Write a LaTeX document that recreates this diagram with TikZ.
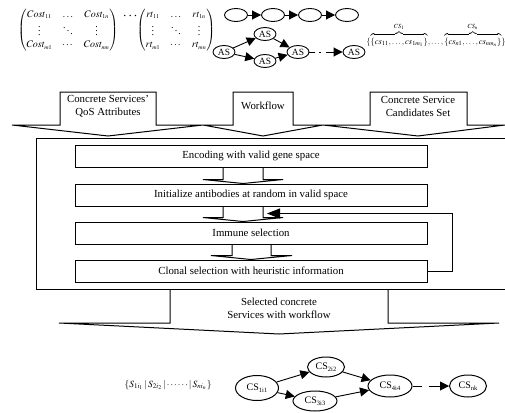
\documentclass[tikz,border=0pt]{standalone}
\usepackage{amsmath}
\usepackage{mathptmx}
\usepackage[no-math]{fontspec}
\setmainfont{Liberation Serif}
\usetikzlibrary{shapes.geometric,arrows.meta,calc}
\newcommand{\sbs}[1]{\raisebox{-1.6pt}{\fontsize{6.5}{6.5}\selectfont #1}}
\newcommand{\ms}[1]{_{\scriptscriptstyle #1}}
\tikzset{
  txt/.style={font=\fontsize{10.8}{13}\selectfont, align=center},
  procbox/.style={draw, line width=1pt, minimum width=352pt, minimum height=22pt, inner sep=0pt, txt},
  blk/.style={line width=1pt, line join=miter},
  asnode/.style={ellipse, draw, line width=0.9pt, minimum width=22pt, minimum height=13pt, inner sep=0pt, font=\fontsize{9.5}{10}\selectfont},
  chainnode/.style={ellipse, draw, line width=0.9pt, minimum width=23pt, minimum height=13pt, inner sep=0pt},
  csnode/.style={ellipse, draw, line width=1pt, inner sep=0pt, font=\fontsize{10}{11}\selectfont},
  arr/.style={-{Triangle[length=9pt,width=9pt]}, line width=0.9pt},
  fbarr/.style={-{Triangle[length=13pt,width=10pt]}, line width=1pt},
}
\begin{document}
\begin{tikzpicture}[x=1pt,y=-1pt]
\useasboundingbox (0,0) rectangle (505,412);

% ---- top: matrices
\node[inner sep=0pt] (m1) at (68,30) {\fontsize{10}{12}\selectfont$\begin{pmatrix} Cost\ms{11} & \ldots & Cost\ms{1n}\\ \vdots & \ddots & \vdots\\ Cost\ms{m1} & \cdots & Cost\ms{mn}\end{pmatrix}$};
\node[inner sep=0pt] (md) at (131,16) {\fontsize{14}{14}\selectfont$\boldsymbol{\cdots}$};
\node[inner sep=0pt] (m2) at (176,30) {\fontsize{10}{12}\selectfont$\begin{pmatrix} rt\ms{11} & \ldots & rt\ms{1n}\\ \vdots & \ddots & \vdots\\ rt\ms{m1} & \cdots & rt\ms{mn}\end{pmatrix}$};

% ---- top: chain
\node[chainnode] (c1) at (236,15) {};
\node[chainnode] (c2) at (273,15) {};
\node[chainnode] (c3) at (310,15) {};
\node[chainnode] (c4) at (347,15) {};
\draw[arr] (c1) -- (c2);
\draw[arr] (c2) -- (c3);
\draw[arr] (c3) -- (c4);

% ---- top: AS graph
\node[asnode] (as1) at (224,52) {AS};
\node[asnode] (as2) at (265,34) {AS};
\node[asnode] (as3) at (265,61) {AS};
\node[asnode] (as4) at (298,52) {AS};
\node[asnode] (as5) at (354,52) {AS};
\draw[arr] (as1) -- (as2);
\draw[arr] (as1) -- (as3);
\draw[arr] (as2) -- (as4);
\draw[arr] (as3) -- (as4);
\draw[arr, dash pattern=on 6pt off 4pt on 1.5pt off 5pt on 30pt] (as4) -- (as5);

% ---- top: candidate set
\node (cset) at (436,35) {\fontsize{8.5}{10}\selectfont$\{\overbrace{\{cs_{11},\ldots,cs_{1m_1}\}}^{CS_1},\ldots,\overbrace{\{cs_{n1},\ldots,cs_{nm_n}\}}^{CS_n}\}$};

% ---- input block arrows
\draw[blk] (12,125) -- (60,125) -- (60,92) -- (156,92) -- (156,125) -- (203,125) -- (108,136) -- cycle;
\draw[blk] (203,125) -- (233,125) -- (233,92) -- (293,92) -- (293,125) -- (323,125) -- (263,136) -- cycle;
\draw[blk] (323,125) -- (370,125) -- (370,92) -- (467,92) -- (467,125) -- (505,125) -- (418,136) -- cycle;
\node[txt] (in1) at (108,106) {Concrete Services'\\QoS Attributes};
\node[txt] (in2) at (263,106) {Workflow};
\node[txt] (in3) at (418,106) {Concrete Service\\Candidates Set};

% ---- big frame
\draw[blk] (506,138) -- (36,138) -- (36,289) -- (506,289);

% ---- process boxes
\node[procbox] (enc) at (251,156) {Encoding with valid gene space};
\node[procbox] (init) at (251,195) {Initialize antibodies at random in valid space};
\node[procbox] (imm) at (251,233) {Immune selection};
\node[procbox] (clon) at (251,271) {Clonal selection with heuristic information};

% ---- inner block arrows
\draw[blk] ($(enc.south)+(-28,0)$) -- ($(init.north)+(-28,-4)$) -- ($(init.north)+(-48,-4)$) -- ($(init.north)+(-8,0)$) -- ($(init.north)+(32,-4)$) -- ($(init.north)+(12,-4)$) -- ($(enc.south)+(12,0)$);
\draw[blk] ($(init.south)+(-28,0)$) -- ($(imm.north)+(-28,-4)$) -- ($(imm.north)+(-48,-4)$) -- ($(imm.north)+(-8,0)$) -- ($(imm.north)+(32,-4)$) -- ($(imm.north)+(12,-4)$) -- ($(init.south)+(12,0)$);
\draw[blk] ($(imm.south)+(-19,0)$) -- ($(clon.north)+(-19,-4)$) -- ($(clon.north)+(-40,-4)$) -- ($(clon.north)+(0,0)$) -- ($(clon.north)+(41,-4)$) -- ($(clon.north)+(20,-4)$) -- ($(imm.south)+(20,0)$);

% ---- feedback loop
\coordinate (fbend) at ($(init.south)+(16,7)$);
\draw[fbarr] (clon.east) -- ++(25,0) |- (fbend);

% ---- output block arrow
\draw[blk] (170,289) -- (170,323) -- (59,323) -- (279,334) -- (499,323) -- (388,323) -- (388,289);
\node[txt] (out) at (279,308.5) {Selected concrete\\Services with workflow};

% ---- bottom: selected set
\node (sset) at (168,385) {\fontsize{9.5}{11}\selectfont$\{S_{1i_1}\,|\,S_{2i_2}\,|\cdots\cdots|\,S_{ni_n}\}$};

% ---- bottom: CS graph
\node[csnode, minimum width=43pt, minimum height=25pt] (cs1) at (257,388) {CS\sbs{1i1}};
\node[csnode, minimum width=37pt, minimum height=20pt] (cs2) at (326,367) {CS\sbs{2i2}};
\node[csnode, minimum width=44pt, minimum height=20pt] (cs3) at (315,401) {CS\sbs{3i3}};
\node[csnode, minimum width=44pt, minimum height=22pt] (cs4) at (390,386) {CS\sbs{4i4}};
\node[csnode, minimum width=37pt, minimum height=22pt] (csn) at (468,386) {CS\sbs{nk}};
\draw[arr] (cs1) -- (cs2);
\draw[arr] (cs1) -- (cs3);
\draw[arr] (cs2) -- (cs4);
\draw[arr] (cs3) -- (cs4);
\draw[arr, dash pattern=on 9pt off 7pt on 30pt] (cs4) -- (csn);
\end{tikzpicture}
\end{document}
